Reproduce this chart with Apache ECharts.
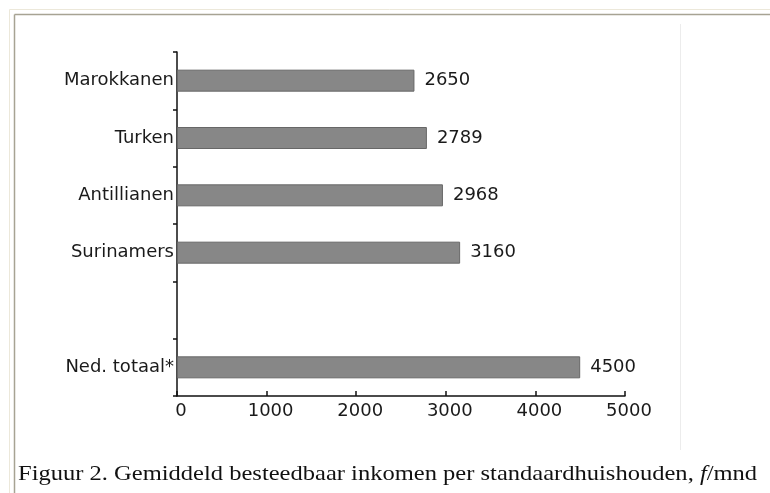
<!DOCTYPE html>
<html>
<head>
<meta charset="utf-8">
<script src="https://cdn.jsdelivr.net/npm/echarts@6/dist/echarts.min.js"></script>
<style>
html,body{margin:0;padding:0;background:#fff;}
#c{width:770px;height:493px;}
</style>
</head>
<body>
<div id="c"></div>
<script>
var categories = ['Marokkanen', 'Turken', 'Antillianen', 'Surinamers', '', 'Ned. totaal*'];
var incomes = [2650, 2789, 2968, 3160, null, 4500];
var xTicks = [0, 1000, 2000, 3000, 4000, 5000];
var caption = 'Figuur 2. Gemiddeld besteedbaar inkomen per standaardhuishouden, {i|f}/mnd';

var chart = echarts.init(document.getElementById('c'), null, {renderer: 'canvas'});
var sans = 'DejaVu Sans';
chart.setOption({
  animation: false,
  backgroundColor: '#fff',
  graphic: [
    {type: 'line', shape: {x1: 9.5, y1: 9.5, x2: 770, y2: 9.5}, style: {stroke: '#ece8da', lineWidth: 1}},
    {type: 'line', shape: {x1: 9.5, y1: 9.5, x2: 9.5, y2: 493}, style: {stroke: '#ece8da', lineWidth: 1}},
    {type: 'line', shape: {x1: 14.5, y1: 14.5, x2: 770, y2: 14.5}, style: {stroke: '#a7a393', lineWidth: 1.5}},
    {type: 'line', shape: {x1: 14.5, y1: 14.5, x2: 14.5, y2: 493}, style: {stroke: '#a7a393', lineWidth: 1.5}},
    {type: 'line', shape: {x1: 680.5, y1: 24, x2: 680.5, y2: 450}, style: {stroke: '#ececec', lineWidth: 1}},
    {
      type: 'text',
      left: 18,
      top: 463,
      scaleX: 1.115,
      originX: 18,
      style: {
        text: caption,
        font: '22px "Liberation Serif"',
        fill: '#111',
        rich: {
          i: {fontFamily: 'Liberation Serif', fontSize: 22, fontStyle: 'italic', fill: '#111'}
        }
      }
    }
  ],
  grid: {left: 177, top: 52, right: 145, bottom: 97, containLabel: false},
  xAxis: {
    type: 'value',
    min: xTicks[0],
    max: xTicks[xTicks.length - 1],
    interval: xTicks[1] - xTicks[0],
    splitLine: {show: false},
    axisLine: {show: true, lineStyle: {color: '#111', width: 1.5}},
    axisTick: {show: true, inside: true, length: 5, lineStyle: {color: '#111', width: 1.5}},
    axisLabel: {
      fontFamily: sans, fontSize: 18, color: '#1a1a1a', margin: 6,
      padding: [0, 0, 0, 8],
      formatter: function (v) { return String(v); }
    }
  },
  yAxis: {
    type: 'category',
    inverse: true,
    data: categories,
    axisLine: {show: true, lineStyle: {color: '#111', width: 1.5}},
    axisTick: {show: true, length: 4, lineStyle: {color: '#111', width: 1.5}},
    axisLabel: {fontFamily: sans, fontSize: 18, color: '#1a1a1a', margin: 3}
  },
  series: [{
    type: 'bar',
    data: incomes,
    barWidth: 22,
    itemStyle: {color: '#878787', borderColor: '#676767', borderWidth: 1},
    label: {show: true, position: 'right', distance: 10, fontFamily: sans, fontSize: 18, color: '#1a1a1a'}
  }]
});
</script>
</body>
</html>
